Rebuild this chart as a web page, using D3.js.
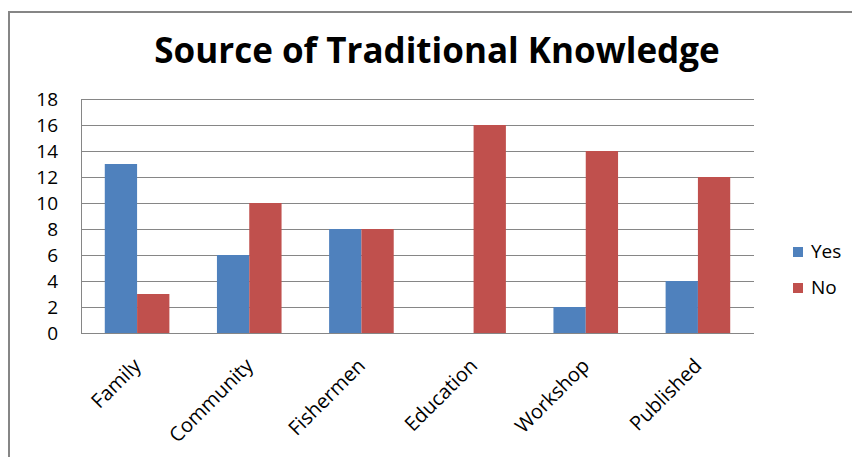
<!DOCTYPE html>
<html>
<head>
<meta charset="utf-8">
<script src="https://cdn.jsdelivr.net/npm/d3@7"></script>
<style>
  body { margin: 0; background: #fff; }
  svg { display: block; }
</style>
</head>
<body>
<svg id="chart"></svg>
<script>
const categories = ['Family', 'Community', 'Fishermen', 'Education', 'Workshop', 'Published'];
const seriesNames = ['Yes', 'No'];
const yesValues = [13, 6, 8, 0, 2, 4];
const noValues = [3, 10, 8, 16, 14, 12];
const yTicks = [0, 2, 4, 6, 8, 10, 12, 14, 16, 18];
const colors = ['#4F81BD', '#C0504D'];

const width = 852;
const height = 457;
const plot = {left: 81, right: 754, top: 99, bottom: 333};
const font = '"Open Sans", sans-serif';

const svg = d3.select('#chart')
  .attr('width', width)
  .attr('height', height);

// outer chart frame
svg.append('rect')
  .attr('x', 9).attr('y', 12)
  .attr('width', 900).attr('height', 500)
  .attr('fill', 'none')
  .attr('stroke', '#868686')
  .attr('stroke-width', 2);

svg.append('text')
  .attr('x', 437).attr('y', 63)
  .attr('text-anchor', 'middle')
  .style('font-family', font)
  .style('font-weight', 'bold')
  .style('font-size', '35px')
  .attr('fill', '#000')
  .text('Source of Traditional Knowledge');

const x0 = d3.scaleBand()
  .domain(categories)
  .range([plot.left, plot.right]);

const gap = x0.bandwidth() * 0.212;
const x1 = d3.scaleBand()
  .domain(seriesNames)
  .range([gap, x0.bandwidth() - gap]);

const y = d3.scaleLinear()
  .domain([0, 18])
  .range([plot.bottom, plot.top]);

// gridlines
svg.append('g')
  .selectAll('line')
  .data(yTicks.filter(d => d > 0))
  .join('line')
  .attr('x1', plot.left).attr('x2', plot.right)
  .attr('y1', d => Math.round(y(d)) + 0.5)
  .attr('y2', d => Math.round(y(d)) + 0.5)
  .attr('stroke', '#868686')
  .attr('stroke-width', 1);

const data = categories.map((c, i) => ({category: c, values: [yesValues[i], noValues[i]]}));

svg.append('g')
  .selectAll('g')
  .data(data)
  .join('g')
  .attr('transform', d => `translate(${x0(d.category)},0)`)
  .selectAll('rect')
  .data(d => d.values.map((v, i) => ({name: seriesNames[i], value: v, color: colors[i]})))
  .join('rect')
  .attr('x', d => x1(d.name))
  .attr('width', x1.bandwidth())
  .attr('y', d => y(d.value))
  .attr('height', d => y(0) - y(d.value))
  .attr('fill', d => d.color);

// axes lines
svg.append('line')
  .attr('x1', plot.left + 0.5).attr('x2', plot.left + 0.5)
  .attr('y1', plot.top).attr('y2', plot.bottom)
  .attr('stroke', '#868686');
svg.append('line')
  .attr('x1', plot.left).attr('x2', plot.right)
  .attr('y1', plot.bottom + 0.5).attr('y2', plot.bottom + 0.5)
  .attr('stroke', '#868686');

// y tick labels
svg.append('g')
  .selectAll('text')
  .data(yTicks)
  .join('text')
  .attr('x', 58)
  .attr('y', d => y(d) + 7)
  .attr('text-anchor', 'end')
  .style('font-family', font)
  .style('font-size', '19px')
  .attr('fill', '#000')
  .text(d => d);

// category labels
svg.append('g')
  .selectAll('text')
  .data(categories)
  .join('text')
  .attr('transform', d => `translate(${x0(d) + x0.bandwidth() / 2 + 5},${plot.bottom + 34}) rotate(-45)`)
  .attr('text-anchor', 'end')
  .style('font-family', font)
  .style('font-size', '20px')
  .attr('fill', '#000')
  .text(d => d);

// legend
const legend = svg.append('g')
  .selectAll('g')
  .data(seriesNames)
  .join('g')
  .attr('transform', (d, i) => `translate(793,${247 + i * 36})`);
legend.append('rect')
  .attr('width', 10).attr('height', 10)
  .attr('fill', (d, i) => colors[i]);
legend.append('text')
  .attr('x', 18).attr('y', 11)
  .style('font-family', font)
  .style('font-size', '19px')
  .attr('fill', '#000')
  .text(d => d);
</script>
</body>
</html>
